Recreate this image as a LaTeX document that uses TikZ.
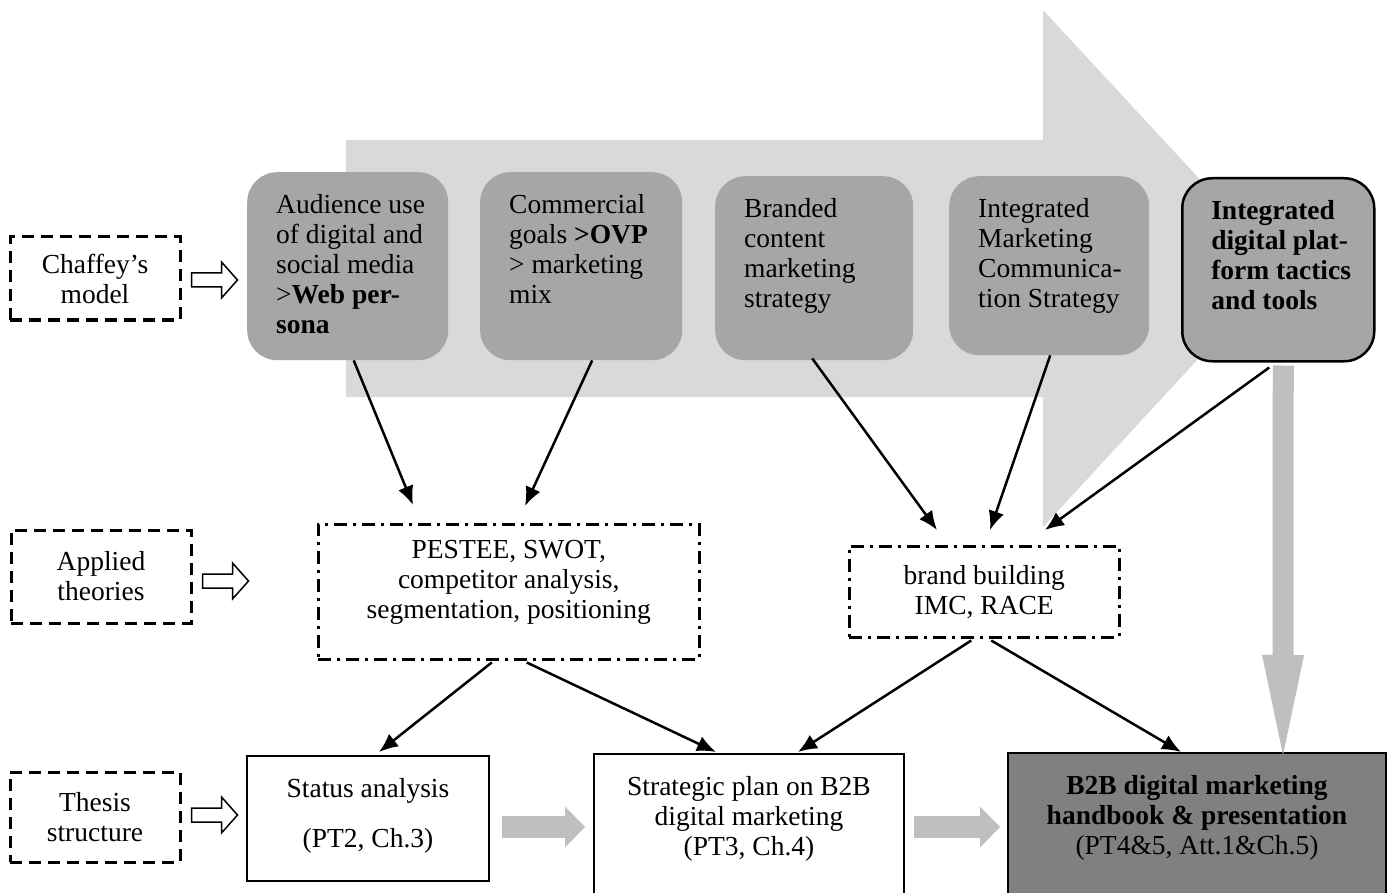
\documentclass[tikz,border=0pt]{standalone}
\usepackage{fontspec}
\setmainfont{Liberation Serif}
\usetikzlibrary{arrows.meta,calc}
\definecolor{arrowbg}{HTML}{D9D9D9}
\definecolor{stagefill}{HTML}{A6A6A6}
\definecolor{flowgray}{HTML}{BFBFBF}
\definecolor{resultfill}{HTML}{808080}
\newcommand{\toptext}[3]{\parbox[c][#2][t]{#1}{\raggedright\leftskip=29pt\strut #3}}
\newcommand{\midtext}[3]{\parbox[c][#2][t]{#1}{\centering\strut #3}}

\begin{document}
\begin{tikzpicture}[x=1pt, y=-1pt, font=\fontsize{27.5}{30}\selectfont,
  level/.style={draw, line width=3pt, dash pattern=on 12pt off 7pt, align=center, inner sep=0pt},
  stage/.style={fill=stagefill, rounded corners=30pt, anchor=north west, inner xsep=0pt, inner ysep=20pt},
  theory/.style={draw, line width=2.5pt, dash pattern=on 13pt off 6pt on 3pt off 6pt, anchor=north west, inner xsep=0pt},
  result/.style={draw, line width=2pt, anchor=north west, inner xsep=0pt, inner ysep=20pt},
  hollow/.style={draw, line width=1.5pt, fill=white},
  link/.style={line width=2.5pt, -{Latex[length=19pt,width=16pt]}},
  flow/.style={flowgray, line width=22pt, -{Triangle[length=20pt,width=41pt,line width=0pt]}}]
\clip (0,0) rectangle (1392,893);
\fill[white] (0,0) rectangle (1392,893);

% big background arrow
\fill[arrowbg] (346,140) -- (1043,140) -- (1043,10) -- (1282,268) -- (1043,527) -- (1043,397) -- (346,397) -- cycle;

% levels
\node[level, minimum width=170pt, minimum height=83pt] (chaffey) at (95,278.5) {Chaffey’s\\model};
\node[level, minimum width=180pt, minimum height=93pt] (applied) at (101,576.5) {Applied\\theories};
\node[level, minimum width=170pt, minimum height=90pt] (thesis) at (95,817) {Thesis\\structure};

\foreach \lvl/\dy in {chaffey/1.5, applied/4.5, thesis/-2}
  \draw[hollow] ($(\lvl.east)+(10,\dy-7)$) -- ++(30,0) -- ++(0,-11) -- ++(16,18) -- ++(-16,18) -- ++(0,-11) -- ++(-30,0) -- cycle;

% Chaffey's model
\node[stage] (audience) at (247,172) {\toptext{201pt}{148pt}{Audience use\\ of digital and\\ social media\\ >\textbf{Web per-}\\ \textbf{sona}}};
\node[stage] (goals) at (480,172) {\toptext{202pt}{148pt}{Commercial\\ goals \textbf{>OVP}\\ > marketing\\ mix}};
\node[stage] (content) at (715,176) {\toptext{198pt}{144pt}{Branded\\ content\\ marketing\\ strategy}};
\node[stage] (imc) at (949,176) {\toptext{200pt}{139pt}{Integrated\\ Marketing\\ Communica-\\ tion Strategy}};
\node[stage, draw, line width=2.5pt] (platform) at (1181,177) {\toptext{192pt}{143pt}{\bfseries Integrated\\ digital plat-\\ form tactics\\ and tools}};

% applied theories
\node[theory, inner ysep=13pt] (pestee) at (317,523) {\midtext{381pt}{109pt}{PESTEE, SWOT,\\ competitor analysis,\\ segmentation, positioning}};
\node[theory, inner ysep=17pt] (brand) at (848,545) {\midtext{270pt}{57pt}{brand building\\ IMC, RACE}};

% thesis structure
\node[result] (status) at (246,755) {\midtext{242pt}{85pt}{Status analysis\\[20pt] (PT2, Ch.3)}};
\node[result] (strategy) at (593,753) {\midtext{310pt}{120pt}{Strategic plan on B2B\\ digital marketing\\ (PT3, Ch.4)}};
\node[result, fill=resultfill] (handbook) at (1007,752) {\midtext{378pt}{120pt}{\textbf{B2B digital marketing}\\ \textbf{handbook \& presentation}\\ (PT4\&5, Att.1\&Ch.5)}};

% links
\draw[link] ($(audience.south)+(6,0)$) -- ($(pestee.north west)+(96,-18)$);
\draw[link] ($(goals.south)+(11,0)$) -- ($(pestee.north west)+(208,-17)$);
\draw[link] ($(content.south)+(-2,-2)$) -- ($(brand.north west)+(89,-15)$);
\draw[link] ($(imc.south)+(1,0)$) -- ($(brand.north west)+(142,-15)$);
\draw[link] ($(platform.south)+(-9,5)$) -- ($(brand.north west)+(197,-15)$);
\draw[link] ($(pestee.south)+(-17,2)$) -- ($(status.north)+(11,-3)$);
\draw[link] ($(pestee.south)+(18,2)$) -- ($(strategy.north)+(-33,-1)$);
\draw[link] ($(brand.south)+(-13,2)$) -- ($(strategy.north)+(49,-1)$);
\draw[link] ($(brand.south)+(7,2)$) -- ($(handbook.north)+(-16,0)$);

% flow
\draw[flow] ($(status.east)+(12,8.5)$) -- ($(strategy.west |- status.east)+(-8,8.5)$);
\draw[flow] ($(strategy.east |- status.east)+(9,8.5)$) -- ($(handbook.west |- status.east)+(-7,8.5)$);
\draw[flow, line width=21pt, -{Triangle[length=100pt,width=42pt,line width=0pt]}] ($(platform.south)+(5,3)$) -- ($(handbook.north)+(86,3)$);
\end{tikzpicture}
\end{document}
